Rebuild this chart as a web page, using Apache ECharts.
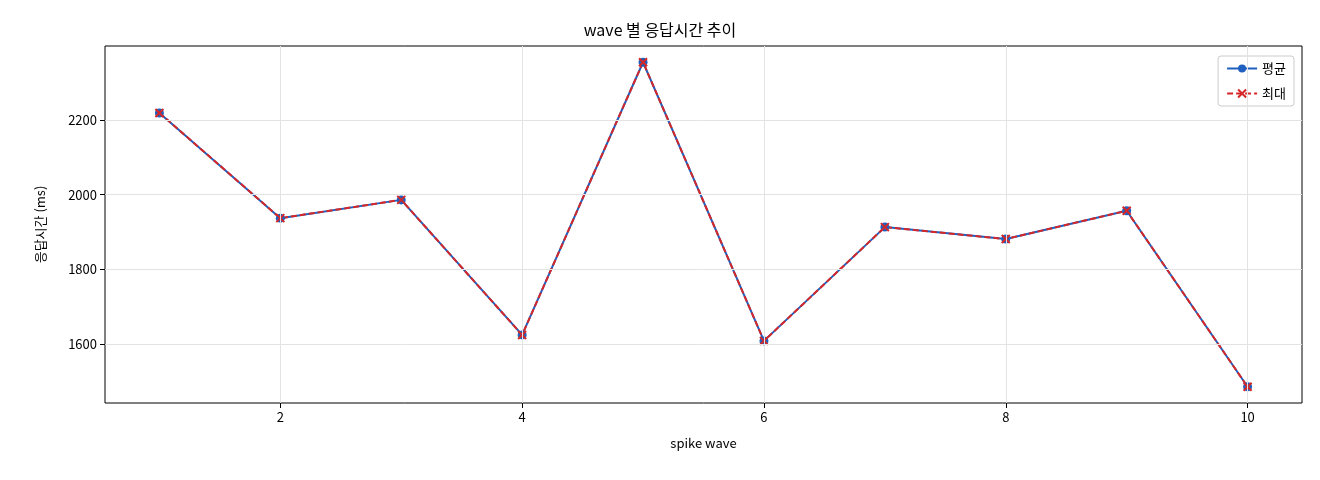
<!DOCTYPE html>
<html><head><meta charset="utf-8">
<script src="https://cdn.jsdelivr.net/npm/echarts@6/dist/echarts.min.js"></script>
<style>html,body{margin:0;padding:0;background:#fff}#c{width:1320px;height:480px}</style>
</head><body><div id="c"></div>
<script>
const waves = [1,2,3,4,5,6,7,8,9,10];
const avgMs = [2219,1937,1986,1624,2355,1608,1913,1881,1957,1485];
const maxMs = [2219,1937,1986,1624,2355,1608,1913,1881,1957,1485];
const xTicks = [2,4,6,8,10];
const yTicks = [1600,1800,2000,2200];
const F = '"Noto Sans CJK KR","DejaVu Sans",sans-serif';
const chart = echarts.init(document.getElementById('c'));
const gridLines = [];
xTicks.forEach(v=>gridLines.push({xAxis:v}));
yTicks.forEach(v=>gridLines.push({yAxis:v}));
chart.setOption({
  animation:false,
  title:{text:'wave 별 응답시간 추이',left:'center',top:17,textStyle:{fontFamily:F,fontSize:16,fontWeight:'normal',color:'#000'}},
  grid:{left:105,right:18,top:46,bottom:77,show:true,borderColor:'#000',borderWidth:1},
  legend:{orient:'vertical',right:26,top:56,itemWidth:30,itemHeight:10,itemGap:12,padding:[6,8,6,8],
    backgroundColor:'#fff',borderColor:'#ccc',borderWidth:1,borderRadius:3,
    textStyle:{fontFamily:F,fontSize:13,color:'#000'},data:['평균','최대']},
  xAxis:{type:'value',min:0.55,max:10.45,name:'spike wave',nameLocation:'middle',nameGap:34,
    nameTextStyle:{fontFamily:F,fontSize:13,color:'#000'},
    axisLine:{show:false},splitLine:{show:false},
    axisTick:{show:true,customValues:xTicks,length:5,lineStyle:{color:'#000'}},
    axisLabel:{customValues:xTicks,fontFamily:F,fontSize:13,color:'#000',margin:8,formatter:v=>String(v)}},
  yAxis:{type:'value',min:1441.5,max:2398.5,name:'응답시간 (ms)',nameLocation:'middle',nameGap:58,
    nameTextStyle:{fontFamily:F,fontSize:13,color:'#000'},
    axisLine:{show:false},splitLine:{show:false},
    axisTick:{show:true,customValues:yTicks,length:5,lineStyle:{color:'#000'}},
    axisLabel:{customValues:yTicks,fontFamily:F,fontSize:13,color:'#000',margin:8,formatter:v=>String(v)}},
  series:[
    {name:'평균',type:'line',data:waves.map((w,i)=>[w,avgMs[i]]),symbol:'circle',symbolSize:9,
     lineStyle:{color:'#1f5fbf',width:2},itemStyle:{color:'#1f5fbf'},
     markLine:{silent:true,symbol:'none',label:{show:false},lineStyle:{color:'#e3e3e3',width:1,type:'solid'},data:gridLines}},
    {name:'최대',type:'line',data:waves.map((w,i)=>[w,maxMs[i]]),symbol:'path://M0,0L10,10M10,0L0,10',symbolSize:8,
     lineStyle:{color:'#d62728',width:2,type:[6,3]},itemStyle:{color:'#d62728',borderColor:'#d62728',borderWidth:2}}
  ]
});
</script></body></html>
